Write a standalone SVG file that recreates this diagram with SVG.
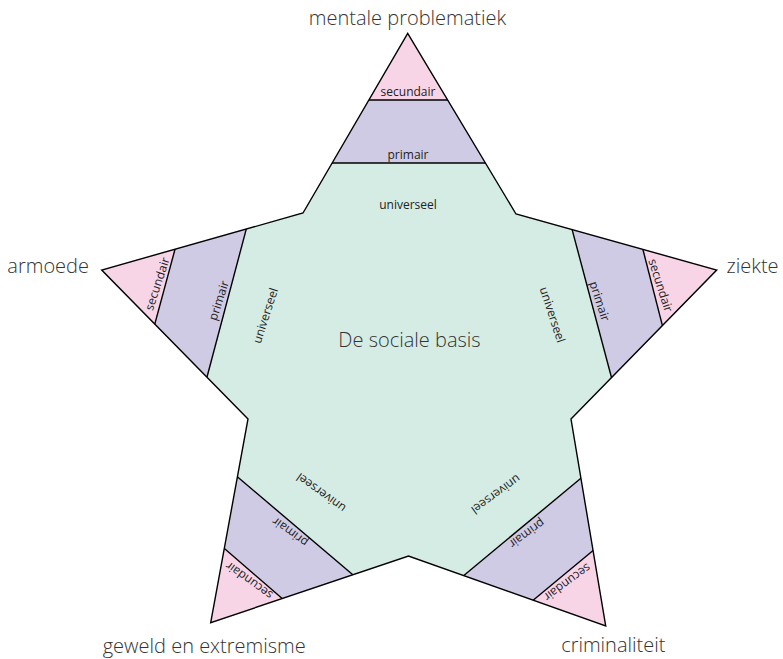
<svg xmlns="http://www.w3.org/2000/svg" width="783" height="659" viewBox="0 0 783 659">
<style>
.big{font-family:"Open Sans","Liberation Sans",sans-serif;font-weight:300;font-size:20px;fill:#333}
.sm{font-family:"Open Sans","Liberation Sans",sans-serif;font-size:12px;fill:#222;text-anchor:middle}
.pink{fill:#f7d5e7}
.purple{fill:#d0cbe4}
.div{stroke:#000;stroke-width:1.4;fill:none}
</style>
<defs>
<polygon id="star" points="407.7,33.3 516,214 716.7,270 571,419 605.7,626 408.5,556 210.7,622.7 248,419 101.7,270 303,213"/>
<clipPath id="clip"><use href="#star"/></clipPath>
</defs>
<rect width="783" height="659" fill="#fff"/>
<g id="center">
<use href="#star" fill="#d5ece5"/>
<text class="big" x="409.5" y="347" text-anchor="middle">De sociale basis</text>
</g>
<g id="bands" clip-path="url(#clip)">
<g id="arm-top">
<polygon class="pink" points="360,100 457,100 408,20"/>
<polygon class="purple" points="360,100 457,100 493,163 325,163"/>
<line class="div" x1="360" y1="100" x2="457" y2="100"/>
<line class="div" x1="325" y1="163" x2="493" y2="163"/>
</g>
<g id="arm-right">
<polygon class="pink" points="642,245.9 663.5,329.8 730,270"/>
<polygon class="purple" points="642,245.9 663.5,329.8 612.3,380.5 571.4,226.9"/>
<line class="div" x1="642" y1="245.9" x2="663.5" y2="329.8"/>
<line class="div" x1="571.4" y1="226.9" x2="612.3" y2="380.5"/>
</g>
<g id="arm-bottom-right">
<polygon class="pink" points="595.5,548.5 529.5,603.2 610,640"/>
<polygon class="purple" points="595.5,548.5 529.5,603.2 460.5,578.2 583.9,475.8"/>
<line class="div" x1="595.5" y1="548.5" x2="529.5" y2="603.2"/>
<line class="div" x1="583.9" y1="475.8" x2="460.5" y2="578.2"/>
</g>
<g id="arm-bottom-left">
<polygon class="pink" points="221.2,545.7 286.5,602.3 205,636"/>
<polygon class="purple" points="221.2,545.7 286.5,602.3 356.1,577.5 233.5,473.5"/>
<line class="div" x1="221.2" y1="545.7" x2="286.5" y2="602.3"/>
<line class="div" x1="233.5" y1="473.5" x2="356.1" y2="577.5"/>
</g>
<g id="arm-left">
<polygon class="pink" points="176.3,244.5 153.7,328.1 88,270"/>
<polygon class="purple" points="176.3,244.5 153.7,328.1 206,380.8 247.3,225.2"/>
<line class="div" x1="176.3" y1="244.5" x2="153.7" y2="328.1"/>
<line class="div" x1="247.3" y1="225.2" x2="206" y2="380.8"/>
</g>
</g>
<use href="#star" fill="none" stroke="#000" stroke-width="1.4" stroke-linejoin="miter"/>
<g id="labels-top">
<text class="big" x="407.5" y="25" text-anchor="middle">mentale problematiek</text>
<text class="sm" x="408" y="96">secundair</text>
<text class="sm" x="408" y="159">primair</text>
<text class="sm" x="408" y="208.5">universeel</text>
</g>
<g id="labels-right">
<text class="big" x="726.5" y="273">ziekte</text>
<text class="sm" transform="rotate(72 656.6 286.7)" x="656.6" y="286.7">secundair</text>
<text class="sm" transform="rotate(72 595.7 302.5)" x="595.7" y="302.5">primair</text>
<text class="sm" transform="rotate(72 548.5 316)" x="548.5" y="316">universeel</text>
</g>
<g id="labels-bottom-right">
<text class="big" x="613.3" y="652" text-anchor="middle">criminaliteit</text>
<text class="sm" transform="rotate(144 564.9 579.1)" x="564.9" y="579.1">secundair</text>
<text class="sm" transform="rotate(144 524.5 530.2)" x="524.5" y="530.2">primair</text>
<text class="sm" transform="rotate(144 493.5 491)" x="493.5" y="491">universeel</text>
</g>
<g id="labels-bottom-left">
<text class="big" x="204.2" y="652.5" text-anchor="middle">geweld en extremisme</text>
<text class="sm" transform="rotate(-144 251.5 577.2)" x="251.5" y="577.2">secundair</text>
<text class="sm" transform="rotate(-144 292.4 528.7)" x="292.4" y="528.7">primair</text>
<text class="sm" transform="rotate(-144 323.5 489.5)" x="323.5" y="489.5">universeel</text>
</g>
<g id="labels-left">
<text class="big" x="89" y="273" text-anchor="end">armoede</text>
<text class="sm" transform="rotate(-72 161.2 285.1)" x="161.2" y="285.1">secundair</text>
<text class="sm" transform="rotate(-72 222.7 301.8)" x="222.7" y="301.8">primair</text>
<text class="sm" transform="rotate(-72 269.3 316.9)" x="269.3" y="316.9">universeel</text>
</g>
<g id="connectors"/>
</svg>
